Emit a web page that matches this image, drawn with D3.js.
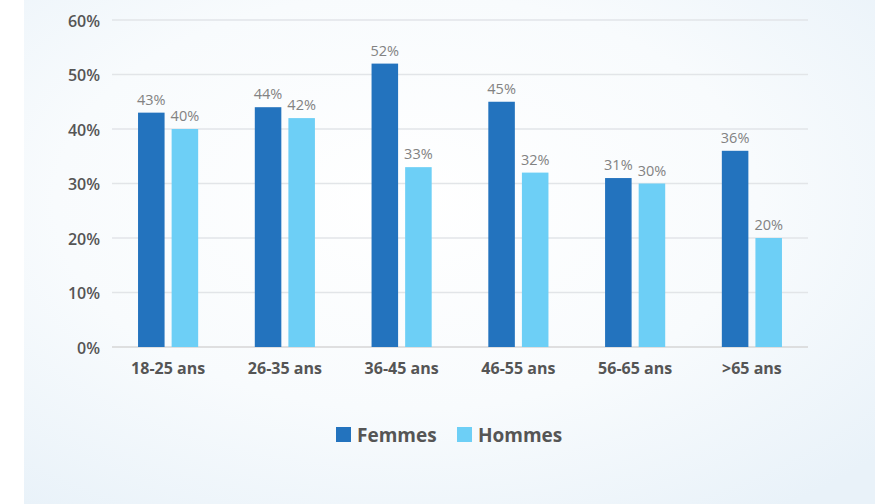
<!DOCTYPE html>
<html lang="fr">
<head>
  <meta charset="UTF-8">
  <title>Femmes / Hommes par tranche d'âge</title>
  <script src="https://d3js.org/d3.v7.min.js"></script>
  <style>
    body {
      margin: 0;
      background: #ffffff;
      font-family: "Open Sans", "Noto Sans", sans-serif;
    }
    svg text { font-family: "Open Sans", "Noto Sans", sans-serif; }
    .y-axis text { font-size: 16px; font-weight: 600; fill: #555; }
    .x-axis text { font-size: 16px; font-weight: 700; fill: #555; }
    .label { font-size: 14.5px; fill: #828282; }
    .legend text { font-size: 19px; font-weight: 700; fill: #555; }
  </style>
</head>
<body>
  <svg id="chart"></svg>
  <script>
    const categories = ["18-25 ans", "26-35 ans", "36-45 ans", "46-55 ans", "56-65 ans", ">65 ans"];
    const seriesNames = ["Femmes", "Hommes"];
    const femmes = [43, 44, 52, 45, 31, 36];
    const hommes = [40, 42, 33, 32, 30, 20];
    const yTicks = [0, 10, 20, 30, 40, 50, 60];
    const colors = ["#2373be", "#6dcff6"];

    const svgWidth = 896, svgHeight = 504;
    const margin = { top: 20, right: 88, bottom: 157, left: 112 };
    const width = svgWidth - margin.left - margin.right;
    const height = svgHeight - margin.top - margin.bottom;

    const root = d3.select("#chart")
      .attr("width", svgWidth)
      .attr("height", svgHeight);

    // soft bluish panel behind the chart
    const defs = root.append("defs");
    const grad = defs.append("radialGradient")
      .attr("id", "bg")
      .attr("cx", "45%").attr("cy", "40%").attr("r", "75%");
    grad.append("stop").attr("offset", "0%").attr("stop-color", "#ffffff");
    grad.append("stop").attr("offset", "55%").attr("stop-color", "#f8fbfd");
    grad.append("stop").attr("offset", "100%").attr("stop-color", "#e9f2f9");
    root.append("rect")
      .attr("x", 24).attr("y", 0)
      .attr("width", 851).attr("height", svgHeight)
      .attr("fill", "url(#bg)");

    const svg = root.append("g")
      .attr("transform", `translate(${margin.left}, ${margin.top})`);

    const data = categories.map((c, i) => ({ cat: c, values: [femmes[i], hommes[i]] }));

    const x0 = d3.scaleBand()
      .domain(categories)
      .range([0, width])
      .paddingInner(0.485)
      .paddingOuter(0.223);

    const x1 = d3.scaleBand()
      .domain(seriesNames)
      .range([0, x0.bandwidth()])
      .paddingInner(0.21);

    const y = d3.scaleLinear()
      .domain([0, 60])
      .range([height, 0]);

    // grid lines
    svg.append("g")
      .selectAll("line")
      .data(yTicks)
      .enter()
      .append("line")
      .attr("x1", 0)
      .attr("x2", width)
      .attr("y1", d => y(d))
      .attr("y2", d => y(d))
      .attr("stroke", d => d === 0 ? "#d6d6d6" : "#e2e5e8")
      .attr("stroke-width", 1.5);

    // y axis
    const yAxis = svg.append("g")
      .attr("class", "y-axis")
      .call(d3.axisLeft(y).tickValues(yTicks).tickFormat(d => d + "%").tickSize(0).tickPadding(12));
    yAxis.attr("font-family", null).attr("font-size", null);
    yAxis.select(".domain").remove();
    yAxis.selectAll("text").attr("dy", "0.38em");

    // x axis
    const xAxis = svg.append("g")
      .attr("class", "x-axis")
      .attr("transform", `translate(0, ${height})`)
      .call(d3.axisBottom(x0).tickSize(0).tickPadding(16));
    xAxis.attr("font-family", null).attr("font-size", null);
    xAxis.select(".domain").remove();

    // bars
    const groups = svg.selectAll(".group")
      .data(data)
      .enter()
      .append("g")
      .attr("class", "group")
      .attr("transform", d => `translate(${x0(d.cat)}, 0)`);

    const cells = d => d.values.map((v, i) => ({ key: seriesNames[i], value: v, i }));

    groups.selectAll("rect")
      .data(cells)
      .enter()
      .append("rect")
      .attr("x", d => x1(d.key))
      .attr("y", d => y(d.value))
      .attr("width", x1.bandwidth())
      .attr("height", d => height - y(d.value))
      .attr("fill", d => colors[d.i]);

    groups.selectAll(".label")
      .data(cells)
      .enter()
      .append("text")
      .attr("class", "label")
      .attr("x", d => x1(d.key) + x1.bandwidth() / 2)
      .attr("y", d => y(d.value) - 8)
      .attr("text-anchor", "middle")
      .text(d => d.value + "%");

    // legend
    const legend = root.append("g")
      .attr("class", "legend")
      .attr("transform", "translate(336, 427)");
    const legendX = [0, 121];
    seriesNames.forEach((name, i) => {
      const g = legend.append("g").attr("transform", `translate(${legendX[i]}, 0)`);
      g.append("rect").attr("width", 15).attr("height", 15).attr("fill", colors[i]);
      g.append("text").attr("x", 21).attr("y", 8).attr("dy", "0.35em").text(name);
    });
  </script>
</body>
</html>
